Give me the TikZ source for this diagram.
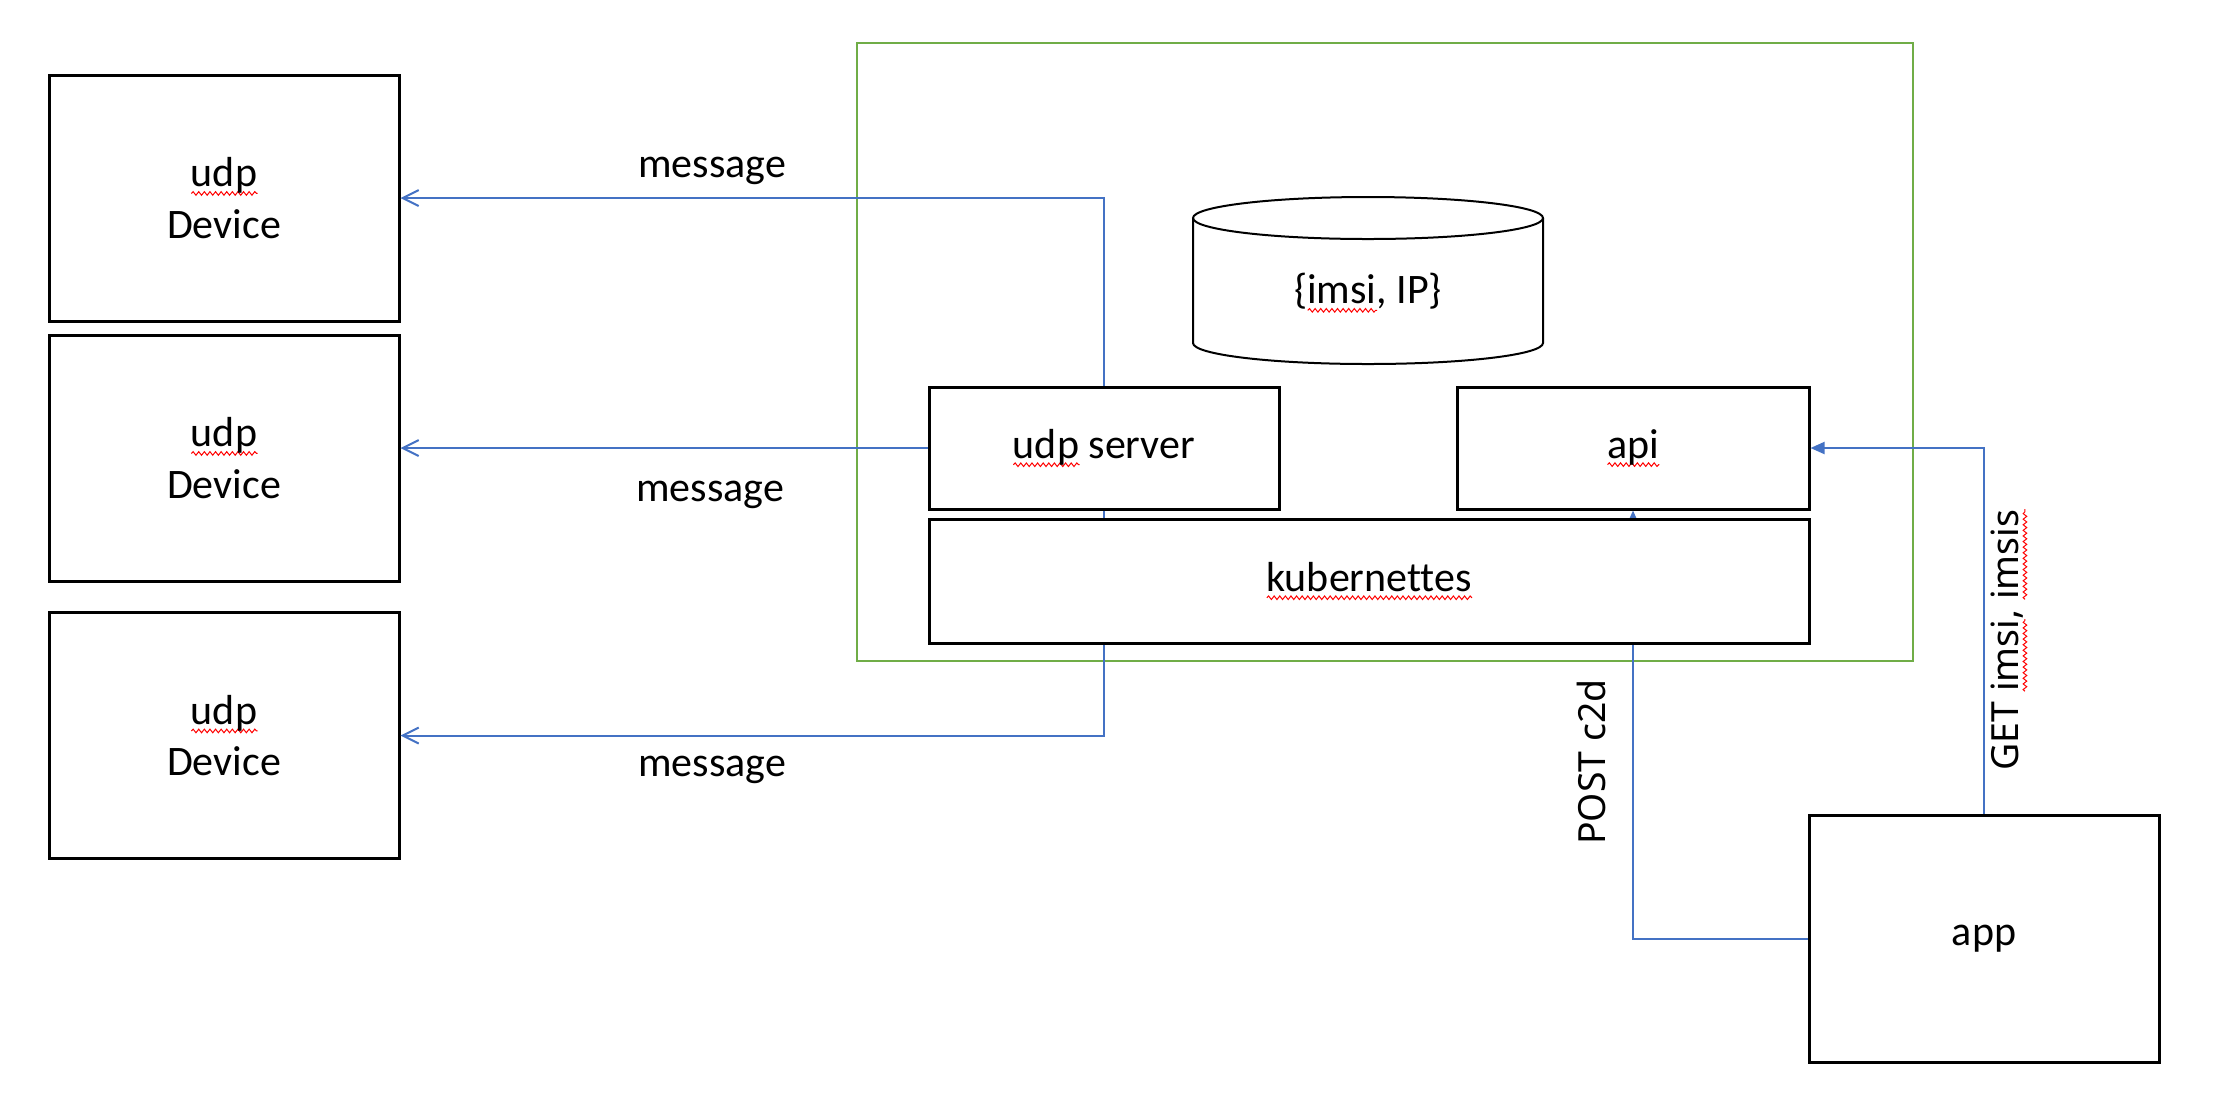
\documentclass[tikz,border=0pt]{standalone}
\usepackage{fontspec}
\setmainfont{Carlito}[Ligatures=NoCommon]
\newfontfamily\rotfont{Noto Sans}
\usepackage{tikz}
\usetikzlibrary{positioning,arrows.meta,decorations.pathmorphing}
\usepackage{xcolor}
\definecolor{lineblue}{HTML}{4472C4}
\definecolor{framegreen}{HTML}{70AD47}
\newlength{\wavylen}
\newcommand{\wavy}[1]{\settowidth{\wavylen}{#1}\rlap{\tikz[baseline=0pt]\draw[red, fill=none, line width=0.5pt, decorate, decoration={snake, amplitude=0.9pt, segment length=2.8pt}] (0pt,-3.3pt) -- (\wavylen,-3.3pt);}#1}

\begin{document}
\begin{tikzpicture}[x=0.5pt, y=-0.5pt,
	box/.style={draw=black, line width=1.5pt, fill=white, inner sep=0pt, align=center, font=\fontsize{21}{25.6}\selectfont},
	frame/.style={draw=framegreen, line width=1.2pt, inner sep=0pt},
	lbl/.style={inner sep=0pt, font=\fontsize{21}{25.6}\selectfont},
	rot/.style={inner sep=0pt, rotate=90, font=\rotfont\fontsize{18.7}{22}\selectfont},
	msg/.style={draw=lineblue, line width=1pt, -{Straight Barb[length=8pt, width=8pt]}},
	req/.style={draw=lineblue, line width=1pt, -{Triangle[length=7pt, width=6pt]}},
	dbline/.style={draw=black, line width=1pt}]
	\useasboundingbox (0,0) rectangle (2222,1116);
	\node[frame, minimum width=528pt, minimum height=309pt] (cluster) at (1385,352) {};
	\foreach \i/\y in {1/198, 2/458, 3/735.5}
		\node[box, minimum width=175pt, minimum height=123pt] (dev\i) at (224,\y) {\wavy{udp}\\Device};
	\node[box, minimum width=175pt, minimum height=61pt] (udpsrv) at (1104,448) {\wavy{udp} server};
	\node[box, minimum width=176pt, minimum height=61pt] (api) at (1633,448) {\wavy{api}};
	\node[box, minimum width=175pt, minimum height=123.5pt] (app) at (1984,938.5) {app};
	\draw[dbline] (1193,218) -- (1193,343) arc[start angle=180, end angle=0, x radius=175, y radius=21] -- (1543,218);
	\draw[dbline] (1368,218) ellipse [x radius=175, y radius=21];
	\node[lbl] (db) at (1368,293) {\{\wavy{imsi}, IP\}};
	\draw[msg] (udpsrv.north) |- (dev1.east);
	\draw[msg] (udpsrv.west) -- (udpsrv.west -| dev2.east);
	\draw[msg] (udpsrv.south) |- (dev3.east);
	\draw[req] (app.west) -| (api.south);
	\draw[req] (app.north) |- (api.east);
	\node[box, minimum width=440pt, minimum height=62pt] (kube) at (1369,581) {\wavy{kubernettes}};
	\node[lbl] (msg1) at (712,171) {message};
	\node[lbl] (msg2) at (710,495) {message};
	\node[lbl] (msg3) at (712,770) {message};
	\node[rot] (post) at (1591,762) {POST c2d};
	\node[rot] (get) at (2009,640) {GET \wavy{imsi}, \wavy{imsis}};
\end{tikzpicture}
\end{document}
